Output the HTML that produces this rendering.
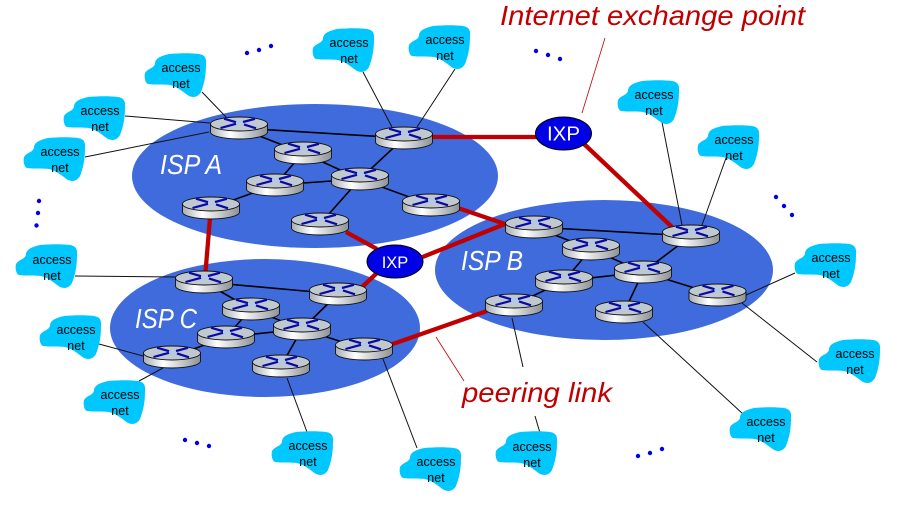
<!DOCTYPE html>
<html><head><meta charset="utf-8"><style>
html,body{margin:0;padding:0;background:#fff;width:915px;height:513px;overflow:hidden}
svg{display:block}
text{font-family:"Liberation Sans",sans-serif}
.a{font-size:12.5px;fill:#000;text-anchor:middle}
.i{font-size:28px;font-style:italic;fill:#fff}
.r{font-size:28px;font-style:italic;fill:#c00000}
.k{stroke:#111;stroke-width:1;fill:none}
.t{stroke:#000;stroke-width:1.6;fill:none}
.h{stroke:#c00000;stroke-width:4.3;fill:none}
</style></head><body>
<svg width="915" height="513" viewBox="0 0 915 513" xmlns="http://www.w3.org/2000/svg">
<defs>
<linearGradient id="g" x1="0" x2="1" y1="0" y2="0"><stop offset="0" stop-color="#a8aeb2"/><stop offset=".35" stop-color="#fff"/><stop offset="1" stop-color="#8d9296"/></linearGradient>
<g id="R">
<path d="M-28.500-4V4A28.500 7 0 0 0 28.500 4V-4Z" fill="url(#g)" stroke="#111" stroke-width=".9"/>
<ellipse cx="0" cy="-4" rx="28.500" ry="7" fill="#c0c8d0" stroke="#111" stroke-width=".9"/>
<path d="M-9-5 0-8 9-5 0-2Z" fill="#b4c8e6"/>
<path d="M-15-9.300-3-5.800M5-3.600 17 .3M-18.500 0-3-4.200M4-6 16-9.200" stroke="#0808a8" stroke-width="2.200" fill="none"/>
</g>
<path id="C" d="M-36-3C-33-8-28-7-26-12C-26-18-20-20-12-22C0-23 10-23 18-22C24-21 25.500-18 25-12C25-3 24 6 20 16C17 21 13 22 8 20C2 16-3 11-11 9C-18 8-26 9-33 8C-36 7-37 1-36-3Z" fill="#00c8ff"/>
</defs>

<ellipse cx="315" cy="176" rx="183" ry="72" fill="#3f6bdc"/>
<ellipse cx="604" cy="270" rx="169" ry="70" fill="#3f6bdc"/>
<ellipse cx="265" cy="328" rx="155" ry="69" fill="#3f6bdc"/>

<g class="k">
<path d="M202 92 226 117M125 116 210 123M85 157 209 132"/>
<path d="M363 72 392 127M455 69 417 127"/>
<path d="M75 276 176 277M99 344 143 356"/>
<path d="M139 381 163 368"/>
<path d="M287 378 307 432M383 359 417 448"/>
<path d="M512 318 523 367M535 416 540 433"/>
<path d="M643 322 743 414M742 303 817 362"/>
<path d="M746 295 795 273"/>
<path d="M662 122 682 225M726 158 702 225"/>
</g>

<g class="t">
<path d="M239 128 404 138M239 128 303 153M303 153 275 185M303 153 360 179M275 185 360 179M275 185 211 208M404 138 360 179M360 179 320 224M360 179 431 205"/>
<path d="M534 227 691 236M534 227 591 249M591 249 564 281M591 249 643 272M691 236 643 272M564 281 643 272M564 281 514 305M643 272 624 312M643 272 717 295"/>
<path d="M204 282 338 294M204 282 251 309M251 309 226 337M251 309 302 329M338 294 302 329M226 337 302 329M226 337 172 357M302 329 281 366M302 329 364 349"/>
</g>

<g class="h">
<path d="M430 137H537"/>
<path d="M583 143 672 227"/>
<path d="M458 208 505 224"/>
<path d="M420 258 505 224"/>
<path d="M346 232 377 249"/>
<path d="M361 288 378 272"/>
<path d="M210 218 205.500 272"/>
<path d="M390 345 487 311"/>
</g>
<path d="M605 38 582 113M436 337 464 381" stroke="#c00000" stroke-width=".8" fill="none"/>

<use href="#R" x="239" y="128"/><use href="#R" x="404" y="138"/><use href="#R" x="303" y="153"/><use href="#R" x="275" y="185"/><use href="#R" x="360" y="179"/><use href="#R" x="211" y="208"/><use href="#R" x="320" y="224"/><use href="#R" x="431" y="205"/>
<use href="#R" x="534" y="227"/><use href="#R" x="691" y="236"/><use href="#R" x="591" y="249"/><use href="#R" x="564" y="281"/><use href="#R" x="643" y="272"/><use href="#R" x="514" y="305"/><use href="#R" x="624" y="312"/><use href="#R" x="717.500" y="295"/>
<use href="#R" x="204" y="282"/><use href="#R" x="338" y="294"/><use href="#R" x="251" y="309"/><use href="#R" x="226" y="337"/><use href="#R" x="302" y="329"/><use href="#R" x="172" y="357"/><use href="#R" x="281" y="366"/><use href="#R" x="364" y="349"/>

<ellipse cx="563.500" cy="133.500" rx="28" ry="16.500" fill="#0000e6" stroke="#000"/>
<ellipse cx="395" cy="261.500" rx="28" ry="16.500" fill="#0000e6" stroke="#000"/>
<text x="563.500" y="140.500" font-size="20.500" fill="#fff" text-anchor="middle">IXP</text>
<text x="395" y="268" font-size="16.500" fill="#fff" text-anchor="middle">IXP</text>

<use href="#C" x="181" y="76"/><use href="#C" x="100" y="119"/><use href="#C" x="60" y="160"/><use href="#C" x="52" y="267"/><use href="#C" x="76" y="338"/><use href="#C" x="120" y="403"/><use href="#C" x="308" y="454"/><use href="#C" x="436" y="470"/><use href="#C" x="532" y="454"/><use href="#C" x="766" y="430"/><use href="#C" x="855" y="362"/><use href="#C" x="831" y="266"/><use href="#C" x="734" y="148"/><use href="#C" x="654" y="103"/><use href="#C" x="445" y="48"/><use href="#C" x="349" y="51"/>

<g class="a">
<text x="181" y="72">access</text><text x="181" y="88">net</text>
<text x="100" y="115">access</text><text x="100" y="131">net</text>
<text x="60" y="156">access</text><text x="60" y="172">net</text>
<text x="52" y="264">access</text><text x="52" y="280">net</text>
<text x="76" y="334">access</text><text x="76" y="350">net</text>
<text x="120" y="399">access</text><text x="120" y="415">net</text>
<text x="308" y="450">access</text><text x="308" y="466">net</text>
<text x="436" y="466">access</text><text x="436" y="482">net</text>
<text x="532" y="451">access</text><text x="532" y="467">net</text>
<text x="766" y="426">access</text><text x="766" y="442">net</text>
<text x="855" y="358">access</text><text x="855" y="374">net</text>
<text x="831" y="262">access</text><text x="831" y="278">net</text>
<text x="734" y="144">access</text><text x="734" y="160">net</text>
<text x="654" y="99">access</text><text x="654" y="115">net</text>
<text x="445" y="44">access</text><text x="445" y="60">net</text>
<text x="349" y="47">access</text><text x="349" y="63">net</text>
</g>

<text class="i" x="160" y="174" textLength="62" lengthAdjust="spacingAndGlyphs">ISP A</text>
<text class="i" x="461" y="270" textLength="62" lengthAdjust="spacingAndGlyphs">ISP B</text>
<text class="i" x="135" y="328" textLength="62" lengthAdjust="spacingAndGlyphs">ISP C</text>
<text class="r" x="500" y="25" textLength="305" lengthAdjust="spacingAndGlyphs">Internet exchange point</text>
<text class="r" x="462" y="402" textLength="150" lengthAdjust="spacingAndGlyphs">peering link</text>

<g fill="#0000e6">
<circle cx="247" cy="53" r="2.200"/><circle cx="259" cy="50" r="2.200"/><circle cx="271" cy="46" r="2.200"/>
<circle cx="39" cy="201" r="2.200"/><circle cx="38" cy="213" r="2.200"/><circle cx="36.500" cy="225.500" r="2.200"/>
<circle cx="536" cy="51" r="2.200"/><circle cx="548" cy="55" r="2.200"/><circle cx="560" cy="59" r="2.200"/>
<circle cx="776" cy="197" r="2.200"/><circle cx="784" cy="206" r="2.200"/><circle cx="792" cy="215" r="2.200"/>
<circle cx="185" cy="440" r="2.200"/><circle cx="197" cy="443" r="2.200"/><circle cx="209" cy="446" r="2.200"/>
<circle cx="638" cy="456" r="2.200"/><circle cx="650" cy="453" r="2.200"/><circle cx="662" cy="449" r="2.200"/>
</g>
</svg>
</body></html>
